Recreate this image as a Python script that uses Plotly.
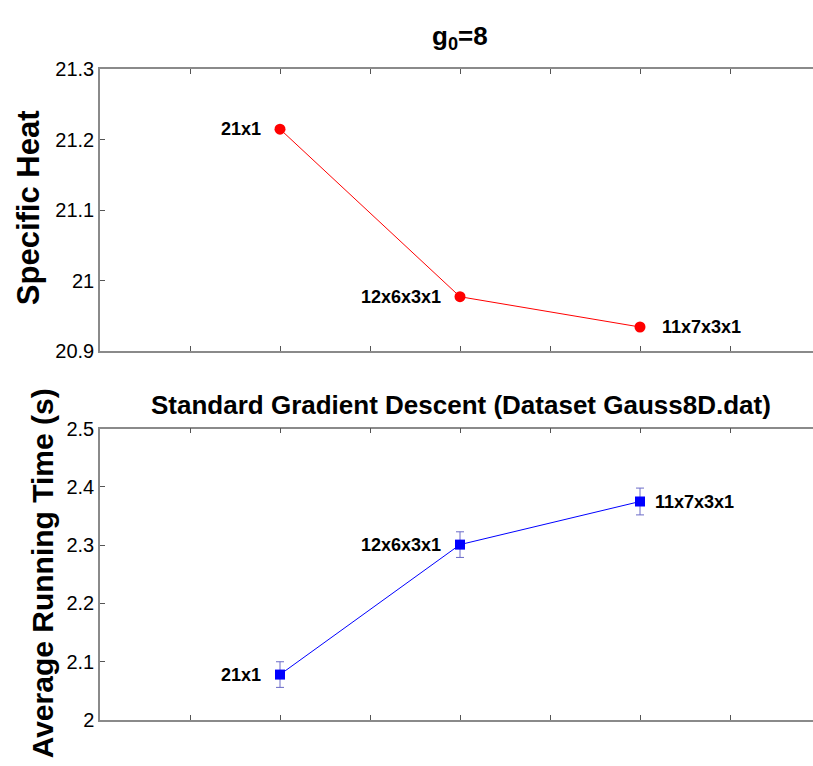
import plotly.graph_objects as go

architectures = ["21x1", "12x6x3x1", "11x7x3x1"]
positions = [1, 2, 3]
specific_heat = [21.215, 20.977, 20.934]
run_time = [2.078, 2.301, 2.375]
run_time_err = [0.022, 0.022, 0.023]

FONT = "Arial, Liberation Sans, Helvetica, sans-serif"
W, H = 813, 766
L = 100
PW = W - L


def px(xp):
    return (xp - L) / PW


def py(yp):
    return 1 - yp / H


fig = go.Figure()

fig.add_trace(go.Scatter(x=positions, y=specific_heat, mode="lines+markers",
                         line=dict(color="#ff0000", width=1),
                         marker=dict(symbol="circle", size=11, color="#ff0000"),
                         xaxis="x", yaxis="y", showlegend=False))
fig.add_trace(go.Scatter(x=positions, y=run_time, mode="lines+markers",
                         line=dict(color="#0000ff", width=1),
                         marker=dict(symbol="square", size=10, color="#0000ff"),
                         error_y=dict(type="data", array=run_time_err, visible=True,
                                      color="#6b6bc8", thickness=1, width=4),
                         xaxis="x2", yaxis="y2", showlegend=False))

xr = [0, PW / 180.0]
axcommon = dict(showgrid=False, zeroline=False, showline=True, linecolor="#8a8a8a",
                linewidth=1.5, ticks="inside", tickcolor="#555555", ticklen=5)
xcommon = dict(range=xr, dtick=0.5, tick0=0, showticklabels=False, mirror=False, **axcommon)
fig.update_layout(
    width=W, height=H,
    margin=dict(l=L, r=0, t=0, b=0),
    paper_bgcolor="white", plot_bgcolor="white",
    font=dict(family=FONT, color="black"),
    xaxis=dict(domain=[0, 1], anchor="y", **xcommon),
    xaxis3=dict(overlaying="x", side="top", anchor="y", **xcommon),
    yaxis=dict(domain=[py(350), py(60)], range=[20.9, 21.3],
               tickvals=[20.9, 21.0, 21.1, 21.2, 21.3],
               ticktext=["20.9", "21", "21.1", "21.2", "21.3"],
               tickfont=dict(size=20), anchor="x", mirror=False, **axcommon),
    xaxis2=dict(domain=[0, 1], anchor="y2", **xcommon),
    xaxis4=dict(overlaying="x2", side="top", anchor="y2", **xcommon),
    yaxis2=dict(domain=[py(730), py(430)], range=[2.0, 2.5],
                tickvals=[2.0, 2.1, 2.2, 2.3, 2.4, 2.5],
                ticktext=["2", "2.1", "2.2", "2.3", "2.4", "2.5"],
                tickfont=dict(size=20), anchor="x2", mirror=False, **axcommon),
)
# invisible helper traces so the top axes are drawn
fig.add_trace(go.Scatter(x=[positions[0]], y=[specific_heat[0]], xaxis="x3", yaxis="y",
                         mode="markers", marker=dict(opacity=0), showlegend=False, hoverinfo="skip"))
fig.add_trace(go.Scatter(x=[positions[0]], y=[run_time[0]], xaxis="x4", yaxis="y2",
                         mode="markers", marker=dict(opacity=0), showlegend=False, hoverinfo="skip"))

ann = []
shifts = [(-17, "right"), (-17, "right"), (20, "left")]
for i in range(3):
    ann.append(dict(x=positions[i], y=specific_heat[i], xref="x", yref="y",
                    text="<b>" + architectures[i] + "</b>",
                    xanchor=shifts[i][1], xshift=shifts[i][0], showarrow=False, font=dict(size=18)))
shifts2 = [(-17, "right"), (-17, "right"), (13, "left")]
for i in range(3):
    ann.append(dict(x=positions[i], y=run_time[i], xref="x2", yref="y2",
                    text="<b>" + architectures[i] + "</b>",
                    xanchor=shifts2[i][1], xshift=shifts2[i][0], showarrow=False, font=dict(size=18)))
# titles
ann.append(dict(x=px(460), y=py(27), xref="paper", yref="paper", text="<b>g<sub>0</sub>=8</b>",
                xanchor="center", yanchor="middle", showarrow=False, font=dict(size=26)))
ann.append(dict(x=px(461), y=py(406), xref="paper", yref="paper",
                text="<b>Standard Gradient Descent (Dataset Gauss8D.dat)</b>",
                xanchor="center", yanchor="middle", showarrow=False, font=dict(size=26)))
ann.append(dict(x=px(28), y=py(203), xref="paper", yref="paper", text="<b>Specific Heat</b>",
                textangle=-90, xanchor="center", yanchor="middle", showarrow=False, font=dict(size=31)))
ann.append(dict(x=px(42), y=py(579), xref="paper", yref="paper", text="<b>Average Running Time (s)</b>",
                textangle=-90, xanchor="center", yanchor="middle", showarrow=False, font=dict(size=30)))
fig.update_layout(annotations=ann)

fig.write_html("out.html")
